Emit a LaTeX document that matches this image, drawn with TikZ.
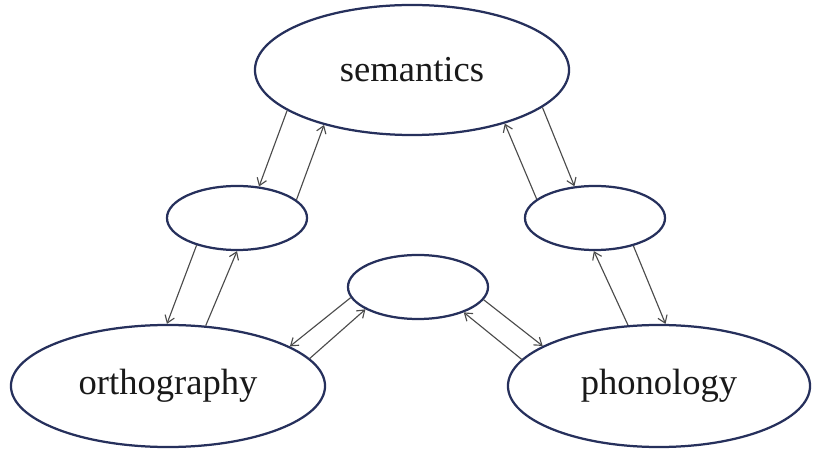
\documentclass[tikz,border=0pt]{standalone}
\usepackage{fontspec}
\setmainfont{Liberation Serif}
\usetikzlibrary{shapes.geometric, arrows.meta}
\definecolor{ringblue}{RGB}{38,48,92}
\definecolor{linkgray}{RGB}{75,75,75}
\tikzset{
  level/.style={
    draw=ringblue,
    line width=1.6pt,
    ellipse,
    inner sep=0pt,
    font=\fontsize{26}{30}\selectfont,
    text=black!90
  },
  hidden/.style={
    level,
    minimum width=3.5cm,
    minimum height=1.6cm
  },
  link/.style={
    draw=linkgray,
    line width=0.8pt,
    -{Straight Barb[length=5pt,width=7pt]}
  }
}

\begin{document}
\begin{tikzpicture}[x=0.025cm, y=-0.025cm]
        \useasboundingbox (0,0) rectangle (816,452);
        \node[level, minimum width=7.85cm, minimum height=3.25cm] (sem) at (412,70) {semantics};
        \node[level, minimum width=7.85cm, minimum height=3.05cm] (orth) at (168,386) {orthography};
        \node[level, minimum width=7.55cm, minimum height=3.05cm] (phon) at (659,386) {phonology};

        \node[hidden] (hidSO) at (237,218) {};
        \node[hidden] (hidSP) at (595,218) {};
        \node[hidden] (hidOP) at (418,287) {};

        % semantics <-> orthography side
        \draw[link] (sem.198.5) -- (hidSO.55.5);
        \draw[link] (hidSO.17.2) -- (sem.212.8);
        \draw[link] (hidSO.214) -- (orth.91);
        \draw[link] (orth.58) -- (hidSO.270);

        % semantics <-> phonology side
        \draw[link] (hidSP.162.8) -- (sem.330.6);
        \draw[link] (sem.344.7) -- (hidSP.123.1);
        \draw[link] (phon.117.4) -- (hidSP.268);
        \draw[link] (hidSP.324.7) -- (phon.84);

        % orthography <-> phonology
        \draw[link] (hidOP.189) -- (orth.18.5);
        \draw[link] (orth.11.2) -- (hidOP.203.2);
        \draw[link] (phon.169) -- (hidOP.331.4);
        \draw[link] (hidOP.349.6) -- (phon.161.5);
      \end{tikzpicture}
\end{document}
